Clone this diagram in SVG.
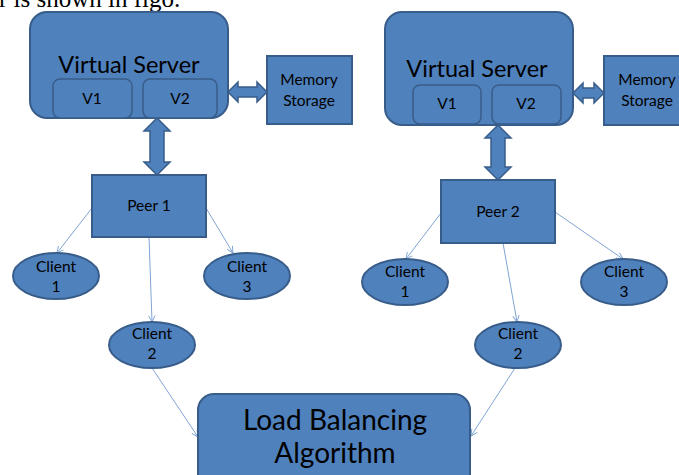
<svg xmlns="http://www.w3.org/2000/svg" width="679" height="475" viewBox="0 0 679 475">
<defs>
<style>
.box{fill:#4f81bd;stroke:#385d8a;stroke-width:2}
.inner{fill:#4f81bd;stroke:#385d8a;stroke-width:1.5}
.t{font-family:Lato,"Open Sans","Liberation Sans",sans-serif;fill:#000;text-anchor:middle}
.s{font-size:15.5px}
.conn{stroke:#7fa4d4;stroke-width:1;fill:none;marker-end:url(#ah)}
.dbl{fill:#4f81bd;stroke:#385d8a;stroke-width:1.5}
</style>
<marker id="ah" viewBox="0 0 10 10" refX="9" refY="5" markerWidth="8" markerHeight="8" orient="auto" markerUnits="userSpaceOnUse">
<path d="M1,1 L9,5 L1,9" fill="none" stroke="#7fa4d4" stroke-width="1.2"/>
</marker>
</defs>
<rect width="679" height="475" fill="#fff"/>
<text x="-1" y="7" font-family="'Liberation Serif',serif" font-size="25" fill="#000">r is shown in figo.</text>

<g id="connectors">
<path class="dbl" d="M228,92 L238,82 L238,87 L257,87 L257,82 L267,92 L257,102 L257,97 L238,97 L238,102 Z"/>
<path class="dbl" d="M157,118 L170,131 L164,131 L164,162 L170,162 L157,175 L144,162 L150,162 L150,131 L144,131 Z"/>
<path class="dbl" d="M573,93 L583,83 L583,88 L594,88 L594,83 L604,93 L594,103 L594,98 L583,98 L583,103 Z"/>
<path class="dbl" d="M498,125 L511,138 L505,138 L505,167 L511,167 L498,180 L485,167 L491,167 L491,138 L485,138 Z"/>
<line class="conn" x1="92" y1="208" x2="57" y2="253"/>
<line class="conn" x1="206" y1="208" x2="233" y2="253"/>
<line class="conn" x1="149" y1="237" x2="152" y2="322"/>
<line class="conn" x1="441" y1="213" x2="406" y2="259"/>
<line class="conn" x1="555" y1="212" x2="623" y2="259"/>
<line class="conn" x1="503" y1="243" x2="517" y2="322"/>
<line class="conn" x1="152" y1="368" x2="198" y2="437"/>
<line class="conn" x1="515" y1="368" x2="471" y2="436"/>
</g>

<g id="vs1">
<rect class="box" x="30" y="12" width="198" height="106" rx="17"/>
<text class="t" x="129" y="73" font-size="23.5">Virtual Server</text>
<rect class="inner" x="53" y="79" width="79" height="39" rx="7"/>
<text class="t s" x="92" y="104">V1</text>
<rect class="inner" x="143" y="79" width="74" height="39" rx="7"/>
<text class="t s" x="180" y="104">V2</text>
</g>
<g id="mem1">
<rect class="box" x="267" y="56" width="85" height="68"/>
<text class="t s" x="309" y="85">Memory</text>
<text class="t s" x="309" y="106">Storage</text>
</g>
<g id="peer1">
<rect class="box" x="92" y="175" width="114" height="62"/>
<text class="t s" x="149" y="211">Peer 1</text>
</g>
<g id="p1c1">
<ellipse class="box" cx="56" cy="276" rx="43" ry="23"/>
<text class="t s" x="56" y="272">Client</text>
<text class="t s" x="56" y="292">1</text>
</g>
<g id="p1c3">
<ellipse class="box" cx="247" cy="276" rx="43" ry="23"/>
<text class="t s" x="247" y="272">Client</text>
<text class="t s" x="247" y="292">3</text>
</g>
<g id="p1c2">
<ellipse class="box" cx="152" cy="345" rx="43" ry="23"/>
<text class="t s" x="152" y="339">Client</text>
<text class="t s" x="152" y="359">2</text>
</g>

<g id="vs2">
<rect class="box" x="385" y="12" width="188" height="113" rx="17"/>
<text class="t" x="477" y="77" font-size="23.5">Virtual Server</text>
<rect class="inner" x="413" y="85" width="68" height="39" rx="7"/>
<text class="t s" x="447" y="109">V1</text>
<rect class="inner" x="492" y="85" width="69" height="39" rx="7"/>
<text class="t s" x="526" y="109">V2</text>
</g>
<g id="mem2">
<rect class="box" x="604" y="56" width="86" height="69"/>
<text class="t s" x="647" y="85">Memory</text>
<text class="t s" x="647" y="106">Storage</text>
</g>
<g id="peer2">
<rect class="box" x="441" y="180" width="114" height="63"/>
<text class="t s" x="498" y="217">Peer 2</text>
</g>
<g id="p2c1">
<ellipse class="box" cx="405" cy="282" rx="43" ry="23"/>
<text class="t s" x="405" y="277">Client</text>
<text class="t s" x="405" y="297">1</text>
</g>
<g id="p2c3">
<ellipse class="box" cx="624" cy="282" rx="43" ry="23"/>
<text class="t s" x="624" y="277">Client</text>
<text class="t s" x="624" y="297">3</text>
</g>
<g id="p2c2">
<ellipse class="box" cx="518" cy="345" rx="43" ry="23"/>
<text class="t s" x="518" y="339">Client</text>
<text class="t s" x="518" y="359">2</text>
</g>

<g id="lb">
<rect class="box" x="198" y="394" width="272" height="100" rx="16"/>
<text class="t" x="335" y="430" font-size="28">Load Balancing</text>
<text class="t" x="335" y="463" font-size="28">Algorithm</text>
</g>
</svg>
